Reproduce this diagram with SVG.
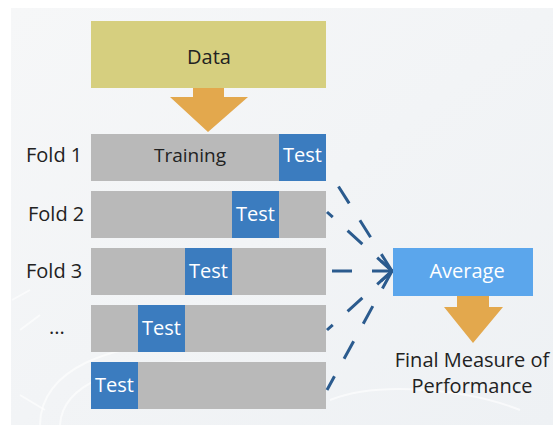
<svg xmlns="http://www.w3.org/2000/svg" width="553" height="425" viewBox="0 0 553 425">
  <defs>
    <style>
      text { font-family: "Open Sans", "Liberation Sans", sans-serif; font-size: 20px; }
      .lbl { fill: #222222; }
      .wt { fill: #ffffff; text-anchor: middle; }
      .bar { fill: #b9b9b9; }
      .test { fill: #3b7cbf; }
      .dash { fill: none; stroke: #2b5b8e; stroke-width: 3; stroke-dasharray: 20 20; }
      .deco { fill: none; stroke: #ffffff; stroke-width: 2; opacity: 0.6; }
    </style>
    <linearGradient id="bg" x1="0" y1="0" x2="1" y2="1">
      <stop offset="0" stop-color="#f6f7f8"/>
      <stop offset="1" stop-color="#eef1f4"/>
    </linearGradient>
  </defs>
  <rect x="0" y="0" width="553" height="425" fill="#ffffff"/>
  <rect x="11" y="8" width="542" height="417" fill="url(#bg)"/>
  <g id="decoration">
    <path class="deco" d="M40 425 C40 370 110 340 200 345"/>
    <path class="deco" d="M60 425 C62 385 120 360 200 362"/>
    <path class="deco" d="M20 330 L40 315 M12 300 L30 290 M20 395 L45 410"/>
    <path class="deco" d="M330 400 C380 380 470 390 520 410"/>
  </g>

  <g id="data">
    <rect x="91" y="21" width="235" height="67" fill="#d6cf7f"/>
    <text class="lbl" x="209" y="64" text-anchor="middle">Data</text>
  </g>
  <g id="arrow-data">
    <polygon points="193,88 224,88 224,97 248,97 208,132 170,97 193,97" fill="#e3a84d"/>
  </g>

  <g id="fold1">
    <text class="lbl" x="26" y="161.5">Fold 1</text>
    <rect class="bar" x="91" y="134" width="235" height="47"/>
    <text class="lbl" x="190" y="161.5" text-anchor="middle" style="font-size:19px">Training</text>
    <rect class="test" x="279" y="134" width="47" height="47"/>
    <text class="wt" x="302.5" y="162">Test</text>
  </g>
  <g id="fold2">
    <text class="lbl" x="28" y="221">Fold 2</text>
    <rect class="bar" x="91" y="191" width="235" height="47"/>
    <rect class="test" x="232" y="191" width="47" height="47"/>
    <text class="wt" x="255.5" y="221">Test</text>
  </g>
  <g id="fold3">
    <text class="lbl" x="26" y="278">Fold 3</text>
    <rect class="bar" x="91" y="248" width="235" height="47"/>
    <rect class="test" x="185" y="248" width="47" height="47"/>
    <text class="wt" x="208.5" y="278">Test</text>
  </g>
  <g id="fold4">
    <text class="lbl" x="57" y="334" text-anchor="middle">...</text>
    <rect class="bar" x="91" y="305" width="235" height="47"/>
    <rect class="test" x="138" y="305" width="47" height="47"/>
    <text class="wt" x="161.5" y="335">Test</text>
  </g>
  <g id="fold5">
    <rect class="bar" x="91" y="362" width="235" height="47"/>
    <rect class="test" x="91" y="362" width="47" height="47"/>
    <text class="wt" x="114.5" y="392">Test</text>
  </g>

  <g id="connectors">
    <path class="dash" d="M392 271 L328 170"/>
    <path class="dash" d="M392 271 L327 212"/>
    <path class="dash" d="M392 271 L327 271"/>
    <path class="dash" d="M392 271 L327 330"/>
    <path class="dash" d="M392 271 L327 390"/>
    <path d="M381 261 L392 271 L381 281" fill="none" stroke="#2b5b8e" stroke-width="3"/>
  </g>

  <g id="average">
    <rect x="393" y="248" width="140" height="48" fill="#5ba6ec"/>
    <text class="wt" x="467" y="278">Average</text>
  </g>
  <g id="arrow-avg">
    <polygon points="457,296 489,296 489,307 503,307 473,343 444,307 457,307" fill="#e3a84d"/>
  </g>
  <g id="final">
    <text class="lbl" x="472" y="367" text-anchor="middle">Final Measure of</text>
    <text class="lbl" x="472" y="393" text-anchor="middle">Performance</text>
  </g>
</svg>
